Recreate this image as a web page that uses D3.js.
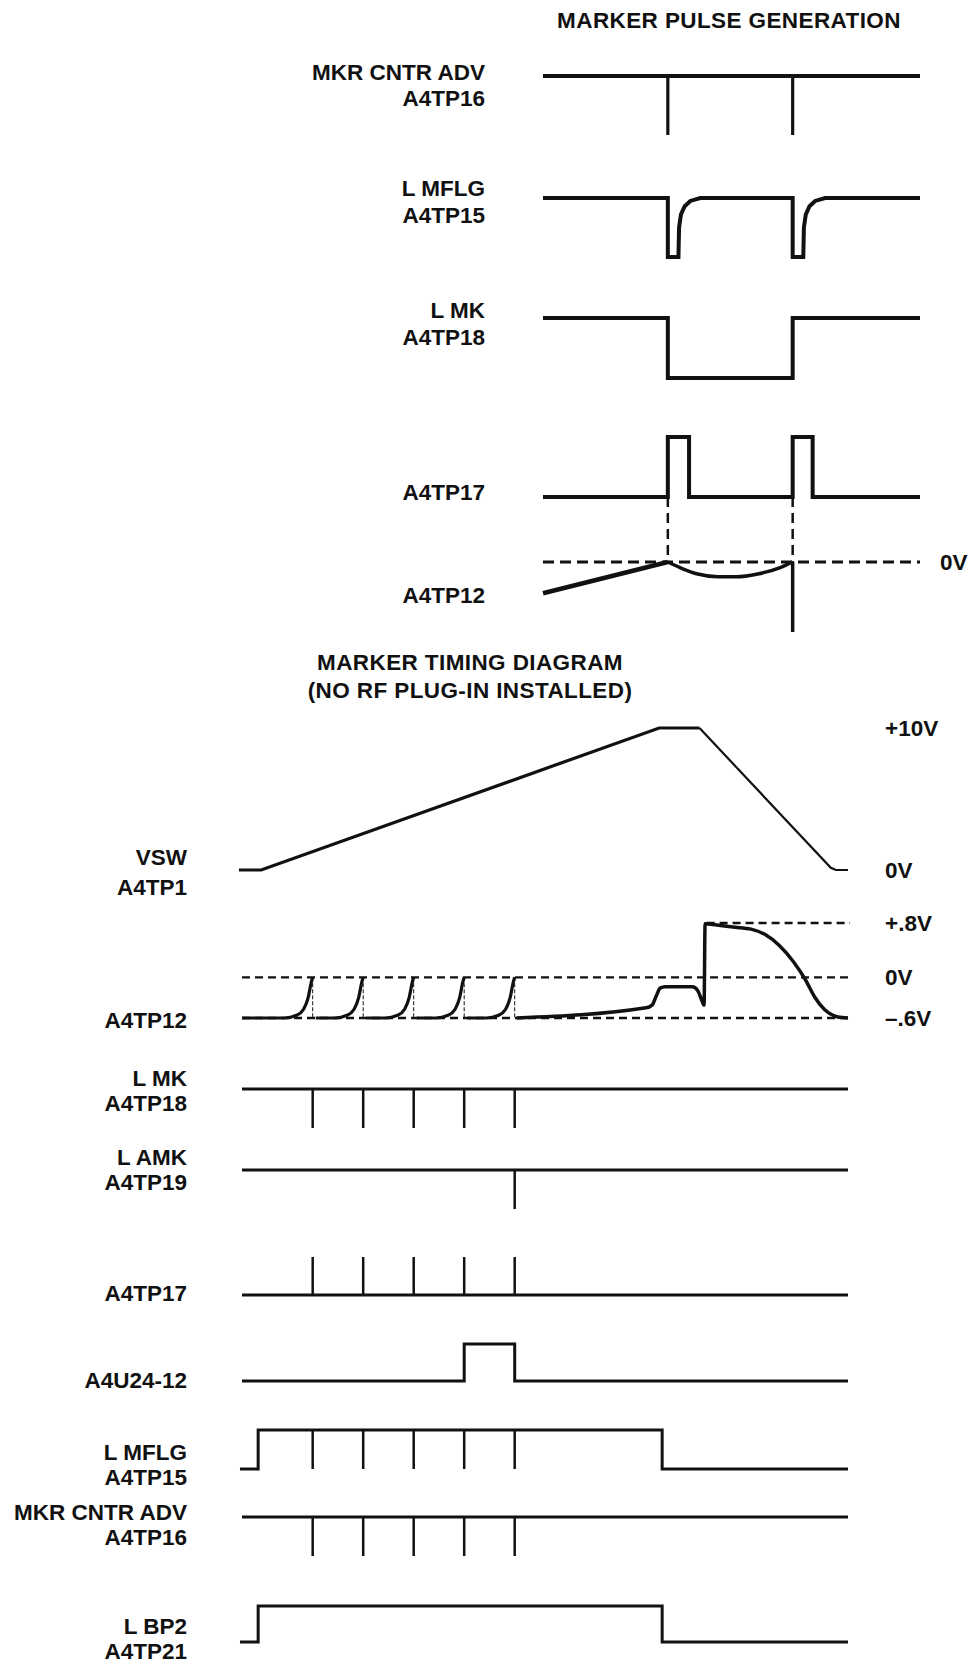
<!DOCTYPE html>
<html lang="en">
<head>
<meta charset="UTF-8">
<title>Marker Pulse Generation / Marker Timing Diagram</title>
<script src="https://d3js.org/d3.v7.min.js"></script>
<style>
    body { margin: 0; background: #fff; }
    svg { display: block; }
    .lbl {
        font-family: "Liberation Sans", Arial, Helvetica, sans-serif;
        font-weight: bold;
        font-size: 22.5px;
        fill: #111;
    }
    .title { letter-spacing: 0.4px; }
    .trace { fill: none; stroke: #111; stroke-linejoin: miter; }
</style>
</head>
<body>
<svg id="chart" width="973" height="1663"></svg>
<script>
// ---------- MARKER PULSE GENERATION (time in arbitrary units, 1 = high, 0 = low) ----------
const topSpan = [0, 30.2];
const topMarkers = [10, 20];
const topMkrAdv = [[0, 1], [30.2, 1]];
const topLMflg = [[0, 1], [10, 1], [10, 0], [10.85, 0], [10.9, 0.5], [11.05, 0.72], [11.35, 0.86], [11.8, 0.95], [12.6, 1],
                  [20, 1], [20, 0], [20.85, 0], [20.9, 0.5], [21.05, 0.72], [21.35, 0.86], [21.8, 0.95], [22.6, 1], [30.2, 1]];
const topLMk = [[0, 1], [10, 1], [10, 0], [20, 0], [20, 1], [30.2, 1]];
const topTp17 = [[0, 0], [10, 0], [10, 1], [11.7, 1], [11.7, 0], [20, 0], [20, 1], [21.6, 1], [21.6, 0], [30.2, 0]];
// A4TP12, units relative to the 0V line
const topTp12Ramp = [[0, -0.78], [10, 0]];
const topTp12Sag = [[10, 0], [11.2, -0.17], [12.4, -0.3], [14, -0.37], [15.5, -0.37], [17.2, -0.3], [19, -0.14], [20, 0]];
const topTp12Drop = [[20, 0], [20, -1.75]];

// ---------- MARKER TIMING DIAGRAM ----------
const span = [-7, 53];
const markers = [0, 5, 10, 15, 20];
const vsw = [[-7.3, 0], [-5.1, 0], [34.3, 10], [38.3, 10]];
const vswFall = [[38.3, 10], [51.3, 0.15], [51.8, 0], [53, 0]];
const tp12Levels = [0.8, 0, -0.6];
const tp12LevelLabels = ["+.8V", "0V", "\u2013.6V"];
const tp12Rises = [
    [[-7, -0.6], [-2.8, -0.6], [-1.6, -0.56], [-0.9, -0.47], [-0.45, -0.3], [-0.15, -0.08], [0, 0]],
    [[0.3, -0.6], [2.2, -0.6], [3.4, -0.56], [4.1, -0.47], [4.55, -0.3], [4.85, -0.08], [5, 0]],
    [[5.3, -0.6], [7.2, -0.6], [8.4, -0.56], [9.1, -0.47], [9.55, -0.3], [9.85, -0.08], [10, 0]],
    [[10.3, -0.6], [12.2, -0.6], [13.4, -0.56], [14.1, -0.47], [14.55, -0.3], [14.85, -0.08], [15, 0]],
    [[15.3, -0.6], [17.2, -0.6], [18.4, -0.56], [19.1, -0.47], [19.55, -0.3], [19.85, -0.08], [20, 0]]
];
const tp12Tail = [[20.2, -0.6], [33.0, -0.45], [33.6, -0.41], [34.0, -0.28], [34.4, -0.16], [34.9, -0.14], [37.6, -0.14],
                  [38.1, -0.19], [38.5, -0.33], [38.75, -0.41], [38.85, 0.79], [40, 0.77], [41.6, 0.74], [43.4, 0.71],
                  [44.8, 0.63], [46.2, 0.47], [47.6, 0.23], [48.8, -0.04], [49.7, -0.29], [50.7, -0.48], [52.0, -0.585], [53, -0.6]];
const lMkLevel = [[-7, 1], [53, 1]];
const lAmkLevel = [[-7, 1], [53, 1]];
const lAmkMarkers = [20];
const tp17Level = [[-7, 0], [53, 0]];
const u24 = [[-7, 0], [15, 0], [15, 1], [20, 1], [20, 0], [53, 0]];
const lMflg = [[-7.2, 0], [-5.4, 0], [-5.4, 1], [34.6, 1], [34.6, 0], [53, 0]];
const mkrAdvLevel = [[-7, 1], [53, 1]];
const lBp2 = [[-7.2, 0], [-5.4, 0], [-5.4, 1], [34.6, 1], [34.6, 0], [53, 0]];

// ---------- drawing ----------
const svg = d3.select("#chart");
const ink = "#111";

const xTop = d3.scaleLinear().domain(topSpan).range([543, 920]);
const x = d3.scaleLinear().domain(span).range([242, 848]);
const level = (lo, hi) => d3.scaleLinear().domain([0, 1]).range([lo, hi]);

function trace(xs, ys, pts, w, curve) {
    svg.append("path")
        .datum(pts)
        .attr("class", "trace")
        .attr("stroke-width", w)
        .attr("d", d3.line().x(d => xs(d[0])).y(d => ys(d[1])).curve(curve || d3.curveLinear));
}

function spikes(xs, ys, times, from, to, w) {
    svg.append("g").selectAll("line")
        .data(times)
        .join("line")
        .attr("x1", d => xs(d)).attr("x2", d => xs(d))
        .attr("y1", ys(from)).attr("y2", ys(to))
        .attr("stroke", ink)
        .attr("stroke-width", w);
}

function hdash(xs, y, t0, t1, w, dash) {
    svg.append("line")
        .attr("x1", xs(t0)).attr("x2", xs(t1))
        .attr("y1", y).attr("y2", y)
        .attr("stroke", ink).attr("stroke-width", w)
        .attr("stroke-dasharray", dash);
}

function label(lines, xRight, centers) {
    lines.forEach((s, i) => {
        svg.append("text")
            .attr("class", "lbl")
            .attr("x", xRight)
            .attr("y", centers[i] + 8)
            .attr("text-anchor", "end")
            .text(s);
    });
}

function sideLabel(s, xLeft, center) {
    svg.append("text")
        .attr("class", "lbl")
        .attr("x", xLeft)
        .attr("y", center + 8)
        .text(s);
}

// titles
svg.append("text").attr("class", "lbl title").attr("x", 729).attr("y", 28)
    .attr("text-anchor", "middle").text("MARKER PULSE GENERATION");
svg.append("text").attr("class", "lbl title").attr("x", 470).attr("y", 670)
    .attr("text-anchor", "middle").text("MARKER TIMING DIAGRAM");
svg.append("text").attr("class", "lbl title").attr("x", 470).attr("y", 698)
    .attr("text-anchor", "middle").text("(NO RF PLUG-IN INSTALLED)");

// ----- top panel -----
const yTopMkr = level(135, 76);
trace(xTop, yTopMkr, topMkrAdv, 4);
spikes(xTop, yTopMkr, topMarkers, 1, 0, 3.2);
label(["MKR CNTR ADV", "A4TP16"], 485, [72, 98]);

const yTopMflg = level(257, 198);
trace(xTop, yTopMflg, topLMflg, 4);
label(["L MFLG", "A4TP15"], 485, [188, 215]);

const yTopMk = level(378, 318);
trace(xTop, yTopMk, topLMk, 4);
label(["L MK", "A4TP18"], 485, [310, 337]);

const yTopTp17 = level(497, 437);
trace(xTop, yTopTp17, topTp17, 4);
label(["A4TP17"], 485, [492]);

const yTopTp12 = d3.scaleLinear().domain([-1, 0]).range([602, 562]);
hdash(xTop, yTopTp12(0), topSpan[0], topSpan[1], 3, "11,6");
svg.append("g").selectAll("line")
    .data(topMarkers)
    .join("line")
    .attr("x1", d => xTop(d)).attr("x2", d => xTop(d))
    .attr("y1", yTopTp17(0)).attr("y2", yTopTp12(0))
    .attr("stroke", ink).attr("stroke-width", 2.5)
    .attr("stroke-dasharray", "10,6");
trace(xTop, yTopTp12, topTp12Ramp, 4.5);
trace(xTop, yTopTp12, topTp12Sag, 3.5, d3.curveMonotoneX);
trace(xTop, yTopTp12, topTp12Drop, 3.5);
label(["A4TP12"], 485, [595]);
sideLabel("0V", 940, yTopTp12(0));

// ----- bottom panel -----
const yVsw = d3.scaleLinear().domain([0, 10]).range([870, 728]);
trace(x, yVsw, vsw, 3.2);
trace(x, yVsw, vswFall, 2.2);
label(["VSW", "A4TP1"], 187, [857, 887]);
sideLabel("+10V", 885, yVsw(10));
sideLabel("0V", 885, yVsw(0));

const yTp12 = d3.scaleLinear().domain([-0.6, 0.8]).range([1018, 923]);
hdash(x, yTp12(0.8), 39, 53.2, 2.3, "8,5");
hdash(x, yTp12(0), span[0], 53.2, 2.3, "8,5");
hdash(x, yTp12(-0.6), span[0], 53.2, 2.3, "8,5");
svg.append("g").selectAll("line")
    .data(markers)
    .join("line")
    .attr("x1", d => x(d)).attr("x2", d => x(d))
    .attr("y1", yTp12(0)).attr("y2", yTp12(-0.6))
    .attr("stroke", ink).attr("stroke-width", 1)
    .attr("stroke-dasharray", "4,2");
tp12Rises.forEach(seg => trace(x, yTp12, seg, 3.2, d3.curveMonotoneX));
trace(x, yTp12, tp12Tail, 3.5, d3.curveMonotoneX);
label(["A4TP12"], 187, [1020]);
tp12Levels.forEach((v, i) => sideLabel(tp12LevelLabels[i], 885, yTp12(v)));

const yLMk = level(1128, 1089);
trace(x, yLMk, lMkLevel, 3);
spikes(x, yLMk, markers, 1, 0, 2.5);
label(["L MK", "A4TP18"], 187, [1078, 1103]);

const yLAmk = level(1209, 1170);
trace(x, yLAmk, lAmkLevel, 3);
spikes(x, yLAmk, lAmkMarkers, 1, 0, 2.5);
label(["L AMK", "A4TP19"], 187, [1157, 1182]);

const yTp17 = level(1295, 1257);
trace(x, yTp17, tp17Level, 3);
spikes(x, yTp17, markers, 0, 1, 2.5);
label(["A4TP17"], 187, [1293]);

const yU24 = level(1381, 1344);
trace(x, yU24, u24, 3);
label(["A4U24-12"], 187, [1380]);

const yLMflg = level(1469, 1430);
trace(x, yLMflg, lMflg, 3);
spikes(x, yLMflg, markers, 1, 0, 2.5);
label(["L MFLG", "A4TP15"], 187, [1452, 1477]);

const yMkrAdv = level(1556, 1517);
trace(x, yMkrAdv, mkrAdvLevel, 3);
spikes(x, yMkrAdv, markers, 1, 0, 2.5);
label(["MKR CNTR ADV", "A4TP16"], 187, [1512, 1537]);

const yLBp2 = level(1642, 1606);
trace(x, yLBp2, lBp2, 3);
label(["L BP2", "A4TP21"], 187, [1626, 1651]);
</script>
</body>
</html>
